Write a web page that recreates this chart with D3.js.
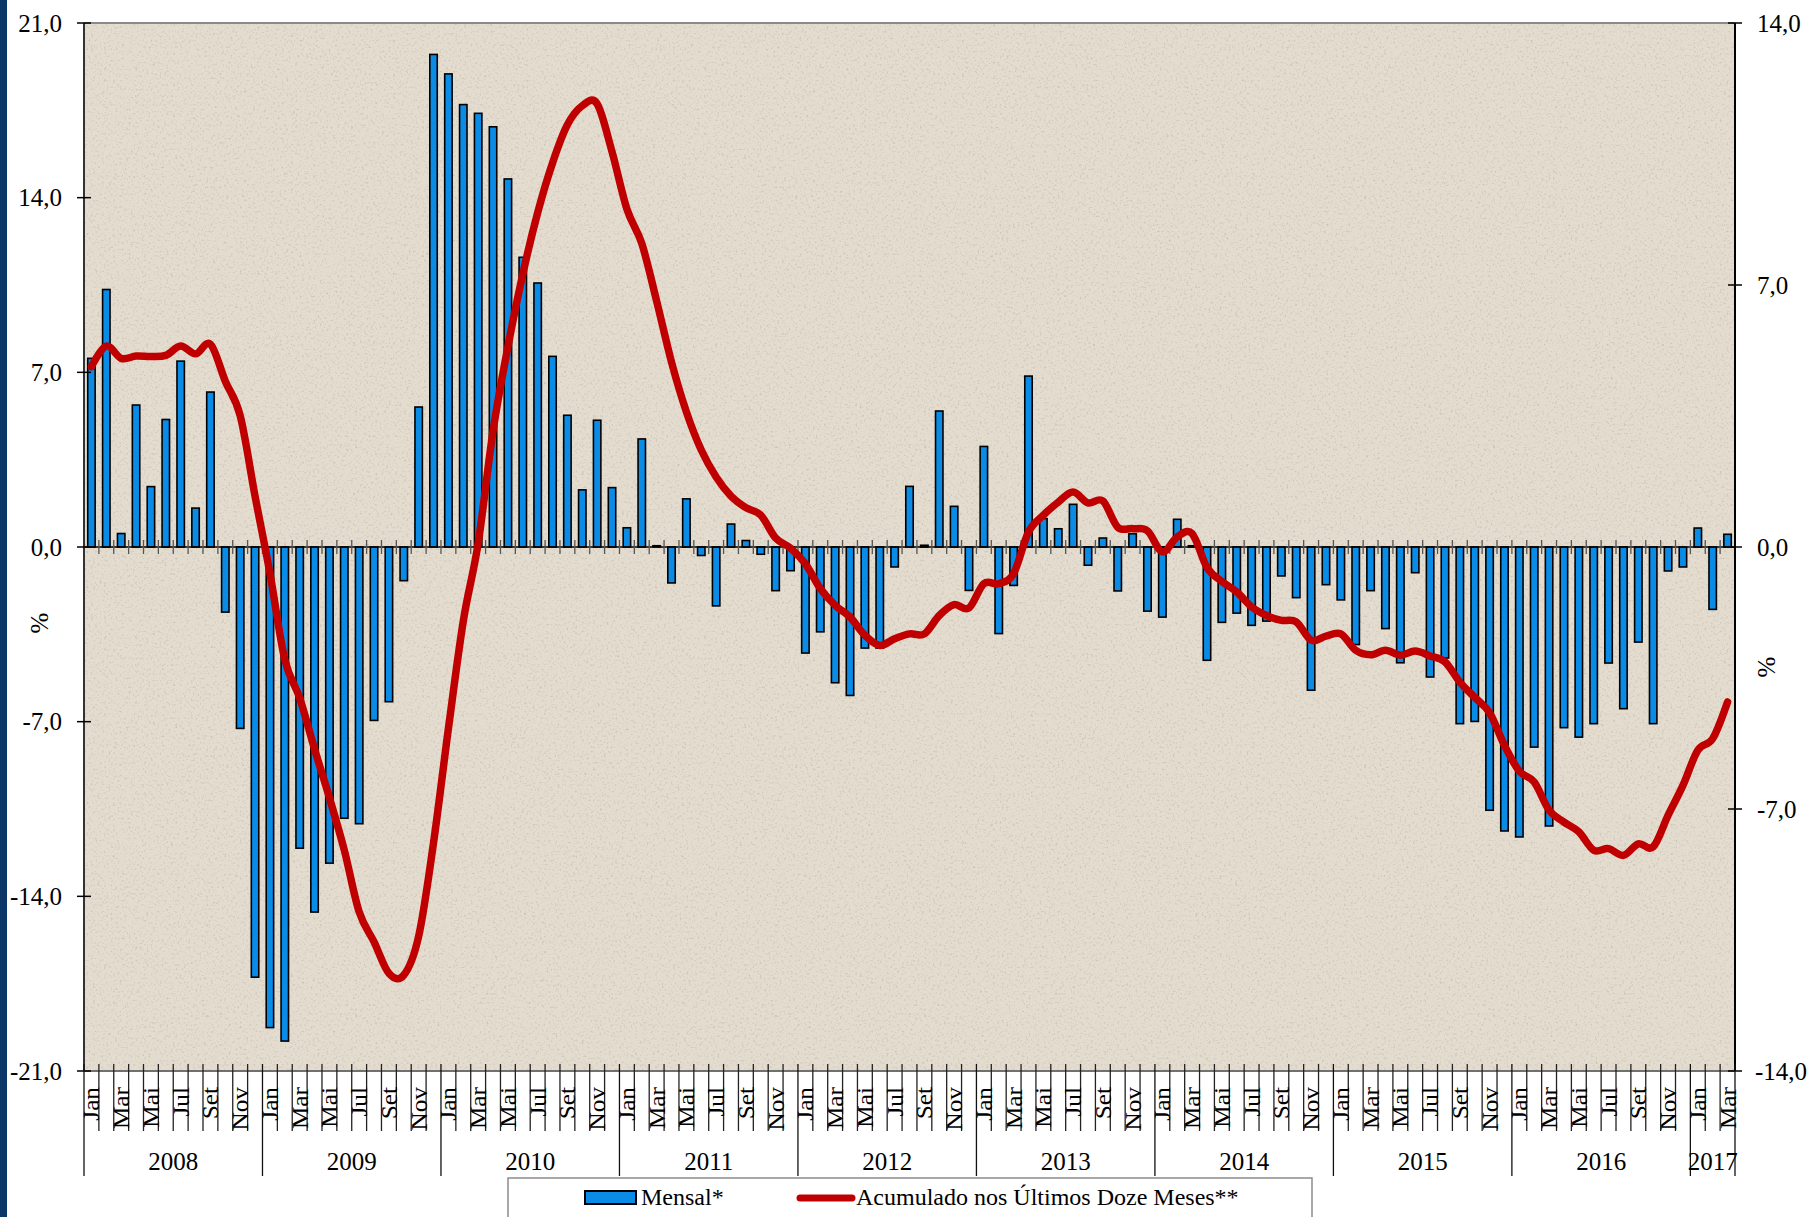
<!DOCTYPE html>
<html><head><meta charset="utf-8">
<script src="https://cdn.jsdelivr.net/npm/d3@7"></script>
<style>html,body{margin:0;padding:0;background:#fff;} svg{display:block;}</style>
</head><body><svg id="chart" width="1810" height="1217"></svg>
<script>
// ---------------- data ----------------
const startYear = 2008;
const monthNames = ["Jan","Fev","Mar","Abr","Mai","Jun","Jul","Ago","Set","Out","Nov","Dez"];
const years = ["2008","2009","2010","2011","2012","2013","2014","2015","2016","2017"];
const leftTicks = [21, 14, 7, 0, -7, -14, -21];
const rightTicks = [14, 7, 0, -7, -14];
const legendLabels = ["Mensal*", "Acumulado nos Últimos Doze Meses**"];

// Mensal (% - left axis), Jan/2008 .. Mar/2017
const mensal = [
  7.56, 10.32, 0.54, 5.69, 2.42, 5.11, 7.45, 1.56, 6.21, -2.61, -7.27, -17.24,
  -19.26, -19.80, -12.07, -14.63, -12.67, -10.87, -11.09, -6.95, -6.20, -1.35, 5.61, 19.74,
  18.96, 17.73, 17.38, 16.84, 14.75, 11.61, 10.58, 7.64, 5.28, 2.29, 5.08, 2.38,
  0.77, 4.33, 0.05, -1.44, 1.93, -0.34, -2.36, 0.92, 0.26, -0.29, -1.75, -0.95,
  -4.25, -3.40, -5.44, -5.95, -4.05, -4.05, -0.80, 2.43, 0.07, 5.45, 1.63, -1.74,
  4.03, -3.47, -1.54, 6.85, 1.14, 0.73, 1.71, -0.73, 0.36, -1.76, 0.53, -2.57,
  -2.81, 1.11, 0.05, -4.54, -3.02, -2.65, -3.14, -2.97, -1.16, -2.03, -5.74, -1.51,
  -2.12, -3.91, -1.75, -3.27, -4.64, -1.03, -5.21, -4.45, -7.08, -6.99, -10.55, -11.38,
  -11.62, -8.02, -11.18, -7.24, -7.62, -7.08, -4.65, -6.48, -3.81, -7.08, -0.96, -0.80,
  0.76, -2.50, 0.51
];

// Acumulado nos últimos doze meses (% - right axis)
const acumulado = [
  4.82, 5.37, 5.04, 5.10, 5.09, 5.12, 5.37, 5.16, 5.42, 4.43, 3.51, 1.36,
  -0.70, -3.01, -4.03, -5.40, -6.70, -8.10, -9.75, -10.55, -11.39, -11.44, -10.40, -7.90,
  -4.85, -1.98, 0.10, 3.10, 5.35, 7.29, 8.93, 10.26, 11.28, 11.79, 11.84, 10.56,
  9.03, 8.11, 6.57, 4.94, 3.61, 2.59, 1.87, 1.36, 1.05, 0.85, 0.24, -0.03,
  -0.45, -1.11, -1.56, -1.87, -2.36, -2.63, -2.45, -2.32, -2.32, -1.83, -1.54, -1.63,
  -0.98, -0.98, -0.71, 0.40, 0.85, 1.20, 1.47, 1.18, 1.23, 0.53, 0.49, 0.43,
  -0.13, 0.27, 0.36, -0.55, -0.92, -1.20, -1.60, -1.83, -1.96, -2.00, -2.49, -2.38,
  -2.32, -2.76, -2.88, -2.76, -2.89, -2.78, -2.91, -3.07, -3.61, -4.02, -4.43, -5.30,
  -5.99, -6.28, -7.03, -7.35, -7.61, -8.10, -8.06, -8.24, -7.93, -8.01, -7.17, -6.37,
  -5.43, -5.12, -4.14
];

// ---------------- chart ----------------
const FONT = "'Liberation Serif','Times New Roman',serif";
const svg = d3.select("#chart");
const W = 1810, H = 1217;
const L = 84, R = 1735, T = 23, B = 1071;
const n = mensal.length;

const x = d3.scaleBand().domain(d3.range(n)).range([L, R]).paddingInner(0.5).paddingOuter(0.25);
const step = x.step();
const cx = i => x(i) + x.bandwidth() / 2;
const yL = d3.scaleLinear().domain([-21, 21]).range([B, T]);
const yR = d3.scaleLinear().domain([-14, 14]).range([B, T]);

const defs = svg.append("defs");
const f = defs.append("filter").attr("id", "tex").attr("x", 0).attr("y", 0).attr("width", 1).attr("height", 1);
f.append("feTurbulence").attr("type", "fractalNoise").attr("baseFrequency", 0.45).attr("numOctaves", 3).attr("seed", 7).attr("result", "n");
f.append("feColorMatrix").attr("in", "n").attr("type", "matrix")
  .attr("values", "0 0 0 0 0.42  0 0 0 0 0.39  0 0 0 0 0.34  3.2 0 0 0 -1.7");

// left blue strip
svg.append("rect").attr("x", 0).attr("y", 0).attr("width", 7).attr("height", H).attr("fill", "#0b3668");

// plot background
svg.append("rect").attr("x", L).attr("y", T).attr("width", R - L).attr("height", B - T).attr("fill", "#e4ddcf");
svg.append("rect").attr("x", L).attr("y", T).attr("width", R - L).attr("height", B - T)
  .attr("filter", "url(#tex)").attr("opacity", 0.45);

// top / bottom frame
svg.append("line").attr("x1", L).attr("x2", R).attr("y1", T).attr("y2", T).attr("stroke", "#8a8a8a").attr("stroke-width", 2);
svg.append("line").attr("x1", L).attr("x2", R).attr("y1", B).attr("y2", B).attr("stroke", "#707070").attr("stroke-width", 2);

// bars
svg.append("g").selectAll("rect").data(mensal).join("rect")
  .attr("x", (d, i) => x(i))
  .attr("width", x.bandwidth())
  .attr("y", d => yL(Math.max(0, d)))
  .attr("height", d => Math.abs(yL(d) - yL(0)))
  .attr("fill", "#0a8be6")
  .attr("stroke", "#000")
  .attr("stroke-width", 1.6);

// zero line with month ticks
const y0 = yL(0);
svg.append("line").attr("x1", L).attr("x2", R).attr("y1", y0).attr("y2", y0).attr("stroke", "#000").attr("stroke-width", 1.6);
svg.append("g").selectAll("line").data(d3.range(n + 1)).join("line")
  .attr("x1", k => L + k * step).attr("x2", k => L + k * step)
  .attr("y1", y0 - 7).attr("y2", y0 + 7)
  .attr("stroke", "#555").attr("stroke-width", 1.3);

// line (acumulado)
const line = d3.line().x((d, i) => cx(i)).y(d => yR(d)).curve(d3.curveCardinal.tension(0));
svg.append("path").datum(acumulado).attr("d", line)
  .attr("fill", "none").attr("stroke", "#c00000").attr("stroke-width", 7.5)
  .attr("stroke-linejoin", "round").attr("stroke-linecap", "round");

// left axis
svg.append("line").attr("x1", L).attr("x2", L).attr("y1", T).attr("y2", B).attr("stroke", "#333").attr("stroke-width", 2);
const gl = svg.append("g");
gl.selectAll("line").data(leftTicks).join("line")
  .attr("x1", L - 7).attr("x2", L + 7).attr("y1", d => yL(d)).attr("y2", d => yL(d)).attr("stroke", "#000").attr("stroke-width", 1.5);
gl.selectAll("text").data(leftTicks).join("text")
  .attr("x", 62).attr("y", d => yL(d)).attr("dy", "0.35em").attr("text-anchor", "end")
  .attr("font-family", FONT).attr("font-size", 25).attr("fill", "#000")
  .text(d => d3.format(".1f")(d).replace(".", ",").replace("−", "-"));

// right axis
svg.append("line").attr("x1", R).attr("x2", R).attr("y1", T).attr("y2", B).attr("stroke", "#000").attr("stroke-width", 2);
const gr = svg.append("g");
gr.selectAll("line").data(rightTicks).join("line")
  .attr("x1", R - 7).attr("x2", R + 7).attr("y1", d => yR(d)).attr("y2", d => yR(d)).attr("stroke", "#000").attr("stroke-width", 1.5);
gr.selectAll("text").data(rightTicks).join("text")
  .attr("x", 1757).attr("y", d => yR(d)).attr("dy", "0.35em").attr("text-anchor", "start")
  .attr("font-family", FONT).attr("font-size", 25).attr("fill", "#000")
  .text(d => d3.format(".1f")(d).replace(".", ",").replace("−", "-"))
  .each(function () {
    const bb = this.getBBox();
    if (bb.x + bb.width > W - 3) d3.select(this).attr("x", 1757 - (bb.x + bb.width - (W - 3)));
  });

// axis titles
svg.append("text").attr("transform", "translate(48,623) rotate(-90)").attr("text-anchor", "middle")
  .attr("font-family", FONT).attr("font-size", 25).text("%");
svg.append("text").attr("transform", "translate(1775,667) rotate(-90)").attr("text-anchor", "middle")
  .attr("font-family", FONT).attr("font-size", 25).text("%");

// month ticks below plot
svg.append("g").selectAll("line").data(d3.range(n + 1).filter(k => k % 12 !== 0 && k !== n)).join("line")
  .attr("x1", k => L + k * step).attr("x2", k => L + k * step)
  .attr("y1", B - 7).attr("y2", 1131).attr("stroke", "#222").attr("stroke-width", 1.3);
// year separators
const yearBounds = d3.range(n + 1).filter(k => k % 12 === 0 || k === n);
svg.append("g").selectAll("line").data(yearBounds).join("line")
  .attr("x1", k => L + k * step).attr("x2", k => L + k * step)
  .attr("y1", B - 7).attr("y2", 1176).attr("stroke", "#111").attr("stroke-width", 1.3);

// month labels
svg.append("g").selectAll("text").data(d3.range(n).filter(i => i % 2 === 0)).join("text")
  .attr("transform", i => `translate(${cx(i)},1087) rotate(-90) scale(1.1,1)`)
  .attr("dy", "0.35em").attr("text-anchor", "end")
  .attr("font-family", FONT).attr("font-size", 23).attr("fill", "#000")
  .text(i => monthNames[i % 12]);

// year labels
svg.append("g").selectAll("text").data(years).join("text")
  .attr("x", (d, j) => {
    const a = j * 12, b = Math.min(n, (j + 1) * 12);
    return L + (a + b) / 2 * step;
  })
  .attr("y", 1170).attr("text-anchor", "middle")
  .attr("font-family", FONT).attr("font-size", 25).attr("fill", "#000")
  .text(d => d);

// legend
const lg = svg.append("g");
lg.append("rect").attr("x", 508).attr("y", 1178).attr("width", 804).attr("height", 60)
  .attr("fill", "#fff").attr("stroke", "#8c8c8c").attr("stroke-width", 1.5);
lg.append("rect").attr("x", 585).attr("y", 1191).attr("width", 51).attr("height", 13)
  .attr("fill", "#0a8be6").attr("stroke", "#000").attr("stroke-width", 2);
lg.append("text").attr("x", 641).attr("y", 1205).attr("font-family", FONT).attr("font-size", 24).text(legendLabels[0]);
lg.append("line").attr("x1", 800).attr("x2", 852).attr("y1", 1198).attr("y2", 1198)
  .attr("stroke", "#c00000").attr("stroke-width", 7).attr("stroke-linecap", "round");
lg.append("text").attr("x", 856).attr("y", 1205).attr("font-family", FONT).attr("font-size", 24).text(legendLabels[1]);
</script>
</body></html>
